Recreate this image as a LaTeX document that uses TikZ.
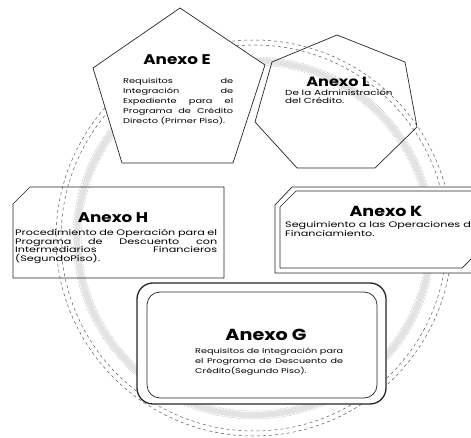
\documentclass[tikz,border=0pt]{standalone}
\usepackage{fontspec}
\setmainfont{Poppins}
\newfontfamily\annexbody{Poppins}[FakeStretch=1.4]
\newfontfamily\annexhead{Poppins}[FakeStretch=1.2]
\begin{document}
\begin{tikzpicture}[x=1pt,y=-1pt]
            \tikzset{
                frame/.style={draw=black!85, line width=0.7pt, line join=round},
                heading/.style={font=\annexhead\fontsize{14}{14}\selectfont\bfseries, inner sep=0pt, anchor=base},
                body/.style={inner sep=0pt, anchor=north west, align=justify},
            }
            \useasboundingbox (0,0) rectangle (471,438);
            % ring behind the annexes
            \coordinate (hub) at (254,238);
            \draw[gray!22, line width=6pt] (hub) circle[radius=177pt];
            \draw[gray!75, densely dotted, line width=0.5pt] (hub) circle[radius=173pt];
            \draw[gray!75, densely dotted, line width=0.5pt] (hub) circle[radius=181pt];
            \draw[gray!70!black, dashed, line width=0.5pt] (hub) circle[radius=193pt];
            \draw[gray!70!black, dashed, line width=0.5pt] (hub) circle[radius=198pt];

            % Anexo E
            \draw[frame, fill=white] (180,8) -- (265,65) -- (233,163) -- (122,163) -- (93,68) -- cycle;
            \node[heading] (titleE) at (177,65) {Anexo E};
            \node[body, text width=110pt, font=\annexbody\fontsize{7}{9.9}\selectfont] (textE) at (123,78)
                {Requisitos de\linebreak Integración de\linebreak Expediente para el\linebreak Programa de Crédito\linebreak Directo (Primer Piso).};

            % Anexo L
            \draw[frame] (337,35) -- (405,62) -- (417,127) -- (375,168) -- (297,168) -- (255,122) -- (272,62) -- cycle;
            \node[heading, font=\annexhead\fontsize{13.4}{14}\selectfont\bfseries] (titleL) at (338,87) {Anexo L};
            \node[body, align=left, font=\annexbody\fontsize{7.4}{8}\selectfont] (textL) at (285,89.5) {De la Administración\\del Crédito.};

            % Anexo H
            \draw[frame] (13,204) -- (30,187) -- (224,187) -- (224,278) -- (13,278) -- cycle;
            \node[heading] (titleH) at (113,223) {Anexo H};
            \node[body, text width=202pt, font=\annexbody\fontsize{8}{8.5}\selectfont] (textH) at (15,229)
                {Procedimiento de Operación para el\linebreak Programa de Descuento con\linebreak Intermediarios Financieros\linebreak (SegundoPiso).};

            % Anexo K
            \draw[frame, fill=white] (275,205) -- (292,187) -- (490,187) -- (490,255) -- (472,273) -- (275,273) -- cycle;
            \draw[frame] (280,207) -- (296,191) -- (485,191) -- (485,245) -- (462,268) -- (280,268) -- cycle;
            \node[heading, font=\annexhead\fontsize{14.6}{15}\selectfont\bfseries] (titleK) at (386,217) {Anexo K};
            \node[body, align=left, font=\annexbody\fontsize{8}{9}\selectfont] (textK) at (285,221) {Seguimiento a las Operaciones d\\Financiamiento.};

            % Anexo G
            \draw[frame, fill=white, line width=1.3pt, rounded corners=16pt] (137,283) rectangle (386,404);
            \draw[frame, rounded corners=13pt] (147,292) rectangle (377,398);
            \node[heading, font=\annexhead\fontsize{16}{16}\selectfont\bfseries] (titleG) at (266,340) {Anexo G};
            \node[body, text width=148pt, font=\annexbody\fontsize{6.9}{9.8}\selectfont] (textG) at (195,347.8)
                {Requisitos de Integración para\linebreak el Programa de Descuento de\linebreak Crédito(Segundo Piso).};
\end{tikzpicture}
\end{document}
